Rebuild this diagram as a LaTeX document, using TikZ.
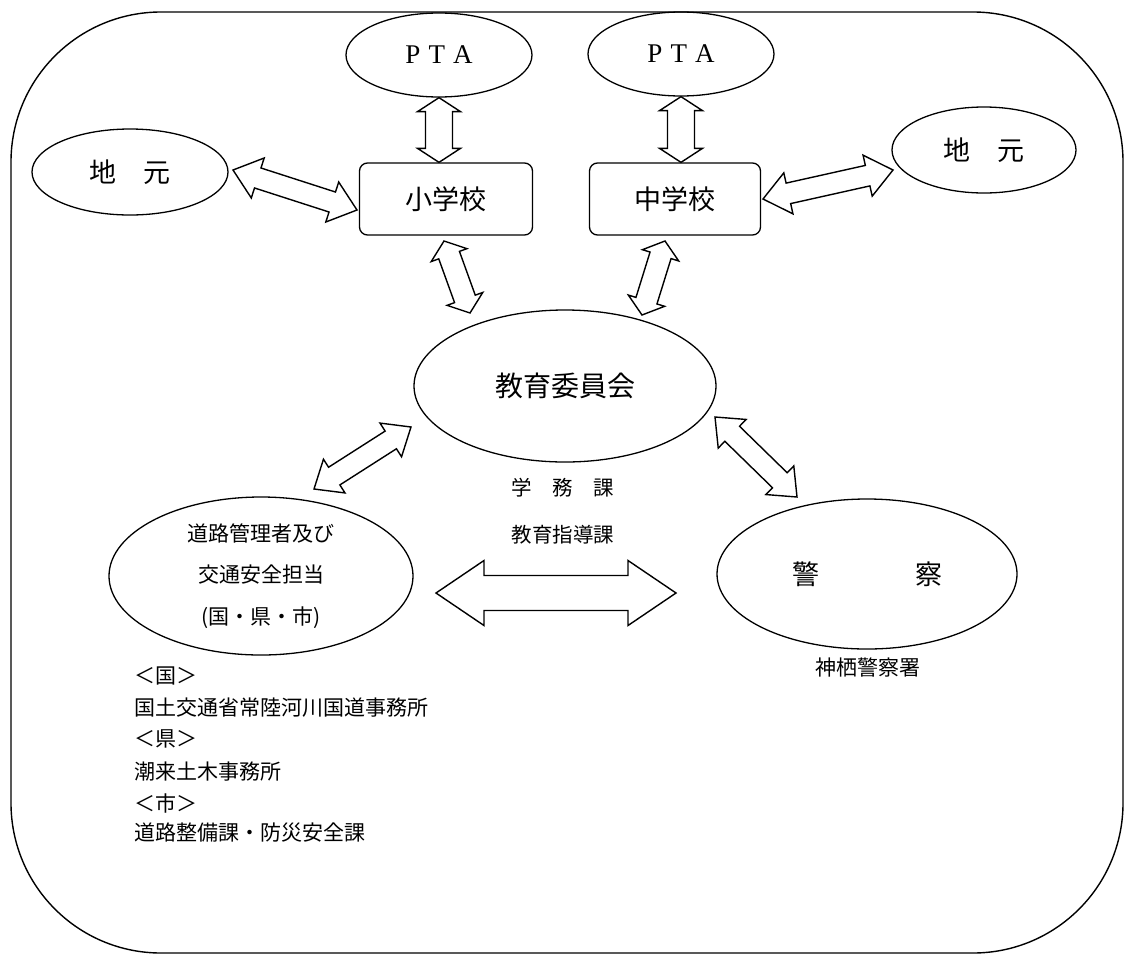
\documentclass[tikz,border=0pt]{standalone}
\usepackage{fontspec}
\setmainfont{Noto Sans CJK JP}
\newfontfamily\ptafont{Liberation Serif}
\usetikzlibrary{shapes.geometric,calc}
\tikzset{
  oval/.style={draw, ellipse, line width=1.3pt, inner sep=0pt},
  schoolbox/.style={draw, rectangle, rounded corners=8pt, line width=1.3pt, inner sep=0pt},
  blockarrow/.style={draw, line width=1.4pt, line join=miter, fill=white},
  plain/.style={inner sep=0pt, align=center},
}
\newcommand\dblblockarrow[5]{%
  \draw[blockarrow] (#1)
    -- ($(#1)!#5!(#2)!#4!90:(#2)$)
    -- ($(#1)!#5!(#2)!#3!90:(#2)$)
    -- ($(#2)!#5!(#1)!#3!-90:(#1)$)
    -- ($(#2)!#5!(#1)!#4!-90:(#1)$)
    -- (#2)
    -- ($(#2)!#5!(#1)!#4!90:(#1)$)
    -- ($(#2)!#5!(#1)!#3!90:(#1)$)
    -- ($(#1)!#5!(#2)!#3!-90:(#2)$)
    -- ($(#1)!#5!(#2)!#4!-90:(#2)$)
    -- cycle;}
\begin{document}
\begin{tikzpicture}[x=1pt, y=-1pt]
\useasboundingbox (0,0) rectangle (1126,956);
% outer frame
\draw[line width=1.4pt, rounded corners=150pt] (11,12) rectangle (1123,953);

% nodes
\node[oval, minimum width=186pt, minimum height=84pt] (ptaL) at (439,55)
  {\ptafont\fontsize{27}{30}\selectfont P\hspace{0.3em}T\hspace{0.3em}A};
\node[oval, minimum width=186pt, minimum height=84pt] (ptaR) at (681,54)
  {\ptafont\fontsize{27}{30}\selectfont P\hspace{0.3em}T\hspace{0.3em}A};
\node[oval, minimum width=196pt, minimum height=86pt] (jimL) at (130,172)
  {\fontsize{27}{30}\selectfont 地　元};
\node[oval, minimum width=184pt, minimum height=86pt] (jimR) at (984,150)
  {\fontsize{27}{30}\selectfont 地　元};
\node[schoolbox, minimum width=173pt, minimum height=72pt] (sho) at (446,199)
  {\fontsize{27}{30}\selectfont 小学校};
\node[schoolbox, minimum width=171pt, minimum height=72pt] (chu) at (675,199)
  {\fontsize{27}{30}\selectfont 中学校};
\node[oval, minimum width=302pt, minimum height=152pt] (kyo) at (565,386)
  {\fontsize{28}{32}\selectfont 教育委員会};
\node[oval, minimum width=304pt, minimum height=158pt, align=center,
      font=\fontsize{21}{41.5}\selectfont] (doro) at (261,576)
  {道路管理者及び\\交通安全担当\\(国・県・市)};
\node[oval, minimum width=300pt, minimum height=150pt] (kei) at (867,574)
  {\fontsize{27}{30}\selectfont 警\hspace{96pt}察};

% labels
\node[plain, font=\fontsize{20.5}{47}\selectfont] (ka) at (563,511) {学　務　課\\教育指導課};
\node[plain, font=\fontsize{21}{25}\selectfont] (keiname) at (868,668) {神栖警察署};

\begin{scope}[every node/.style={plain, anchor=west, font=\fontsize{21}{25}\selectfont}]
\node (l1) at (134,676) {＜国＞};
\node (l2) at (134,708) {国土交通省常陸河川国道事務所};
\node (l3) at (134,739) {＜県＞};
\node (l4) at (134,772) {潮来土木事務所};
\node (l5) at (134,803) {＜市＞};
\node (l6) at (134,833) {道路整備課・防災安全課};
\end{scope}

% connector end points
\coordinate (a1) at (ptaL.south);
\coordinate (a2) at (ptaL.south |- sho.north);
\coordinate (a3) at (ptaR.south);
\coordinate (a4) at (ptaR.south |- chu.north);
\coordinate (b1) at (233,170);
\coordinate (b2) at (357,210);
\coordinate (c1) at (763,199);
\coordinate (c2) at (893,170);
\coordinate (d1) at (444,241);
\coordinate (d2) at (470,313);
\coordinate (e1) at (665,241);
\coordinate (e2) at (642,315);
\coordinate (f1) at (314,489);
\coordinate (f2) at (411,427);
\coordinate (g1) at (715,417);
\coordinate (g2) at (797,497);
\coordinate (h1) at (436,593);
\coordinate (h2) at (676,593);

% block arrows
\dblblockarrow{a1}{a2}{13.5pt}{21.5pt}{14pt}
\dblblockarrow{a3}{a4}{13.5pt}{21.5pt}{14pt}
\dblblockarrow{b1}{b2}{10.5pt}{21pt}{26pt}
\dblblockarrow{c1}{c2}{10.5pt}{21pt}{26pt}
\dblblockarrow{d1}{d2}{11pt}{19pt}{15pt}
\dblblockarrow{e1}{e2}{11pt}{19pt}{15pt}
\dblblockarrow{f1}{f2}{10.5pt}{20pt}{24pt}
\dblblockarrow{g1}{g2}{10.5pt}{20pt}{24pt}
\dblblockarrow{h1}{h2}{17.5pt}{32.5pt}{48pt}
\end{tikzpicture}
\end{document}
